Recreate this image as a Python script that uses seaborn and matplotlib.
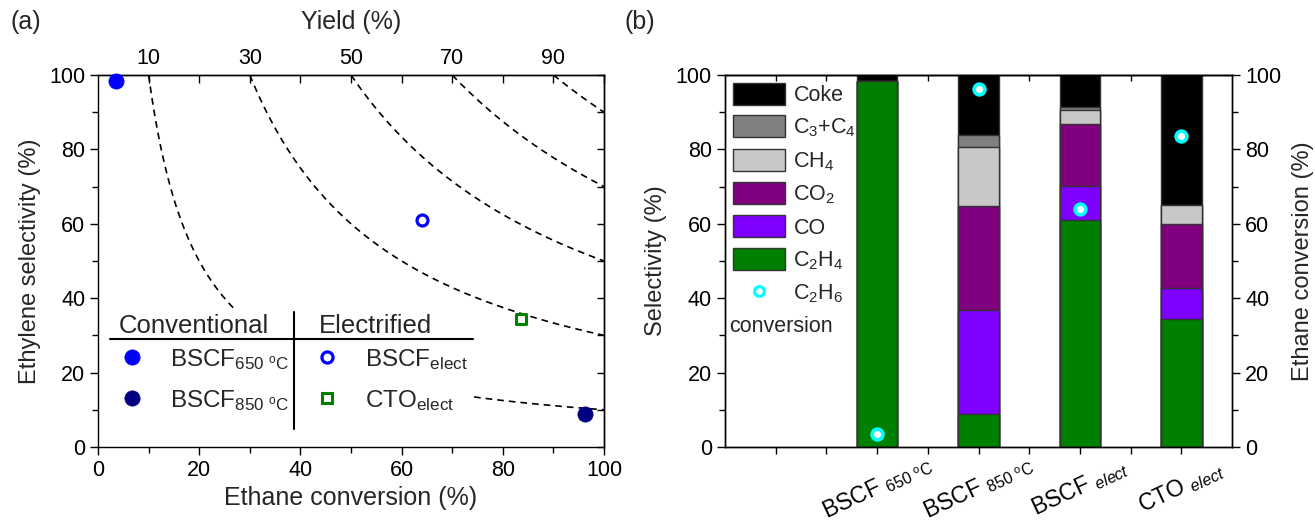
import numpy as np
import pandas as pd
import matplotlib
matplotlib.use("Agg")
import matplotlib.pyplot as plt
import seaborn as sns
from matplotlib.patches import Rectangle, Patch
from matplotlib.lines import Line2D
from matplotlib.ticker import MultipleLocator, FixedLocator, NullFormatter

# ------------------------------------------------------------------ data
catalysts = ["BSCF 650 C", "BSCF 850 C", "BSCF elect", "CTO elect"]
xtick_labels = [r"BSCF $_{\mathregular{650\ ^oC}}$",
                r"BSCF $_{\mathregular{850\ ^oC}}$",
                r"BSCF $_{\mathit{elect}}$",
                r"CTO $_{\mathit{elect}}$"]
legend_a_labels = [r"BSCF$_{\mathregular{650\ ^oC}}$", r"BSCF$_{\mathregular{850\ ^oC}}$",
                   r"BSCF$_{\mathregular{elect}}$", r"CTO$_{\mathregular{elect}}$"]

ethane_conversion = [3.6, 96.2, 64.1, 83.6]   # %
sel_C2H4 = [98.3, 9.0, 61.0, 34.4]
sel_CO = [0.0, 27.8, 9.2, 8.4]
sel_CO2 = [0.0, 28.0, 16.5, 17.2]
sel_CH4 = [0.0, 15.8, 3.9, 5.0]
sel_C3C4 = [0.0, 3.3, 0.9, 0.0]
sel_coke = [1.7, 16.1, 8.5, 35.0]

product_names = ["C$_2$H$_4$", "CO", "CO$_2$", "CH$_4$", "C$_3$+C$_4$", "Coke"]
yield_levels = [10, 30, 50, 70, 90]
yield_tick_labels = ["10", "30", "50", "70", "90"]

# ------------------------------------------------------------------ style
sns.set_theme(style="ticks")
plt.rcParams.update({
    "font.family": ["Liberation Sans", "DejaVu Sans"],
    "mathtext.fontset": "custom",
    "mathtext.rm": "Liberation Sans",
    "mathtext.it": "Liberation Sans:italic",
    "mathtext.bf": "Liberation Sans:bold",
    "axes.linewidth": 1.0,
    "axes.edgecolor": "black",
    "xtick.color": "black",
    "ytick.color": "black",
    "xtick.major.width": 1.0,
    "ytick.major.width": 1.0,
    "xtick.minor.width": 1.0,
    "ytick.minor.width": 1.0,
    "xtick.major.size": 6,
    "ytick.major.size": 6,
    "xtick.minor.size": 4,
    "ytick.minor.size": 4,
    "xtick.labelsize": 15.5,
    "ytick.labelsize": 15.5,
})

product_colors = ["#008000", "#8000FF", "#800080", "#C8C8C8", "#808080", "#000000"]

W, H = 1315, 524
fig = plt.figure(figsize=(W / 100, H / 100), dpi=100)
ax1 = fig.add_axes([98 / W, 1 - 447 / H, 506 / W, 372 / H])
ax2 = fig.add_axes([725 / W, 1 - 447 / H, 507 / W, 372 / H])

# ================================================================== panel (a)
for Y in yield_levels:
    conv = np.linspace(Y, 100, 300)
    sns.lineplot(x=conv, y=100.0 * Y / conv, ax=ax1, color="black", lw=1.2,
                 linestyle=(0, (4, 3)), estimator=None, sort=False, zorder=1)

point_styles = [
    dict(marker="o", color="#0000FF", edgecolor="#0000FF", s=120, linewidth=0.5),
    dict(marker="o", color="#000080", edgecolor="#000080", s=120, linewidth=0.5),
    dict(marker="o", color="white", edgecolor="#0000FF", s=62, linewidth=2.3),
    dict(marker="s", color="white", edgecolor="#008000", s=45, linewidth=2.2),
]
for i, st in enumerate(point_styles):
    sns.scatterplot(x=[ethane_conversion[i]], y=[sel_C2H4[i]], ax=ax1,
                    zorder=7, clip_on=False, **st)

ax1.set_xlim(0, 100)
ax1.set_ylim(0, 100)
ax1.xaxis.set_major_locator(MultipleLocator(20))
ax1.xaxis.set_minor_locator(MultipleLocator(10))
ax1.yaxis.set_major_locator(MultipleLocator(20))
ax1.yaxis.set_minor_locator(MultipleLocator(10))
ax1.tick_params(which="both", direction="out", top=False, right=False, pad=3)
ax1.set_xlabel("Ethane conversion (%)", fontsize=18, labelpad=4)
ax1.set_ylabel("Ethylene selectivity (%)", fontsize=17, labelpad=6)

top = ax1.secondary_xaxis("top")
top.set_xticks(yield_levels)
top.set_xticklabels(yield_tick_labels)
top.xaxis.set_minor_locator(FixedLocator([20, 40, 60, 80, 100]))
top.tick_params(which="both", direction="in", length=6, pad=4)
top.set_xlabel("Yield (%)", fontsize=18, labelpad=14)

rgt = ax1.secondary_yaxis("right")
rgt.yaxis.set_major_locator(MultipleLocator(10))
rgt.yaxis.set_major_formatter(NullFormatter())
rgt.tick_params(which="both", direction="in", length=5)

# custom two-column legend
T = ax1.transAxes
ax1.add_patch(Rectangle((0.004, 0.006), 0.739, 0.368, transform=T,
                        facecolor="white", edgecolor="none", zorder=4))
ax1.plot([0.024, 0.742], [0.291, 0.291], transform=T, color="black", lw=1.5, zorder=5)
ax1.plot([0.388, 0.388], [0.048, 0.364], transform=T, color="black", lw=1.5, zorder=5)
ax1.text(0.19, 0.306, "Conventional", transform=T, ha="center", va="baseline",
         fontsize=18.5, zorder=6)
ax1.text(0.549, 0.306, "Electrified", transform=T, ha="center", va="baseline",
         fontsize=18.5, zorder=6)
leg_pos = [(0.0665, 0.242, 0.142, 0.218), (0.0665, 0.132, 0.142, 0.108),
           (0.452, 0.242, 0.528, 0.218), (0.452, 0.132, 0.528, 0.108)]
leg_mk = [dict(marker="o", ms=11, mfc="#0000FF", mec="#0000FF", mew=0.5),
          dict(marker="o", ms=11, mfc="#000080", mec="#000080", mew=0.5),
          dict(marker="o", ms=8, mfc="white", mec="#0000FF", mew=2.3),
          dict(marker="s", ms=6.8, mfc="white", mec="#008000", mew=2.2)]
for (mx, my, tx, ty), lab, mk in zip(leg_pos, legend_a_labels, leg_mk):
    ax1.plot([mx], [my], transform=T, ls="none", zorder=6, clip_on=False, **mk)
    ax1.text(tx, ty, lab, transform=T, ha="left", va="baseline", fontsize=17.5, zorder=6)

# ================================================================== panel (b)
parts = np.array([sel_C2H4, sel_CO, sel_CO2, sel_CH4, sel_C3C4, sel_coke])
cum = np.cumsum(parts, axis=0)
positions = np.arange(len(catalysts))
for k in range(len(product_names) - 1, -1, -1):
    df = pd.DataFrame({"cat": catalysts, "val": cum[k]})
    sns.barplot(data=df, x="cat", y="val", order=catalysts, ax=ax2,
                color=product_colors[k], saturation=1, width=0.4,
                edgecolor="#333333", linewidth=1.0, errorbar=None)

ax2.set_xlim(-1.5, 3.5)
ax2.set_ylim(0, 100)
ax2.set_xticks(positions)
ax2.set_xticklabels(xtick_labels, rotation=25, rotation_mode="anchor",
                    ha="center", va="center", fontsize=16.5)
ax2.xaxis.set_minor_locator(FixedLocator([-1.0, -0.5, 0.5, 1.5, 2.5]))
ax2.yaxis.set_major_locator(MultipleLocator(20))
ax2.yaxis.set_minor_locator(MultipleLocator(10))
ax2.tick_params(which="both", direction="out", top=False, right=False)
ax2.tick_params(axis="x", which="both", length=5)
ax2.tick_params(axis="x", which="major", pad=24)
ax2.set_xlabel("")
ax2.set_ylabel("Selectivity (%)", fontsize=17, labelpad=6)

top2 = ax2.secondary_xaxis("top")
top2.set_xticks(np.arange(-1.0, 3.5, 0.5))
top2.xaxis.set_major_formatter(NullFormatter())
top2.tick_params(direction="in", length=4)

ax2b = ax2.twinx()
sns.scatterplot(x=positions, y=ethane_conversion, ax=ax2b, marker="o",
                color="white", edgecolor="#00FFFF", s=60, linewidth=2.6, zorder=8)
ax2b.set_ylim(0, 100)
ax2b.set_xlim(-1.5, 3.5)
ax2b.yaxis.set_major_locator(MultipleLocator(20))
ax2b.yaxis.set_minor_locator(MultipleLocator(10))
ax2b.tick_params(which="both", direction="out")
ax2b.set_ylabel("Ethane conversion (%)", fontsize=17, labelpad=8)

handles = [Patch(facecolor=product_colors[k], edgecolor="#333333", linewidth=1.0)
           for k in range(len(product_names) - 1, -1, -1)]
labels = [product_names[k] for k in range(len(product_names) - 1, -1, -1)]
handles.append(Line2D([], [], ls="none", marker="o", ms=7, mfc="white",
                      mec="#00FFFF", mew=2.3))
labels.append("C$_2$H$_6$")
ax2b.legend(handles, labels, loc="upper left", bbox_to_anchor=(0, 1),
            frameon=False, fontsize=15.5, handlelength=2.45, handleheight=1.2,
            labelspacing=0.44, handletextpad=0.38, borderpad=0.0,
            borderaxespad=0.35)
ax2b.text(0.008, 0.323, "conversion", transform=ax2b.transAxes, ha="left",
          va="center", fontsize=15.5)

fig.text(10 / W, 1 - 22 / H, "(a)", fontsize=18, va="center", ha="left")
fig.text(625 / W, 1 - 22 / H, "(b)", fontsize=18, va="center", ha="left")

fig.savefig("out.png", dpi=100, facecolor="white")
